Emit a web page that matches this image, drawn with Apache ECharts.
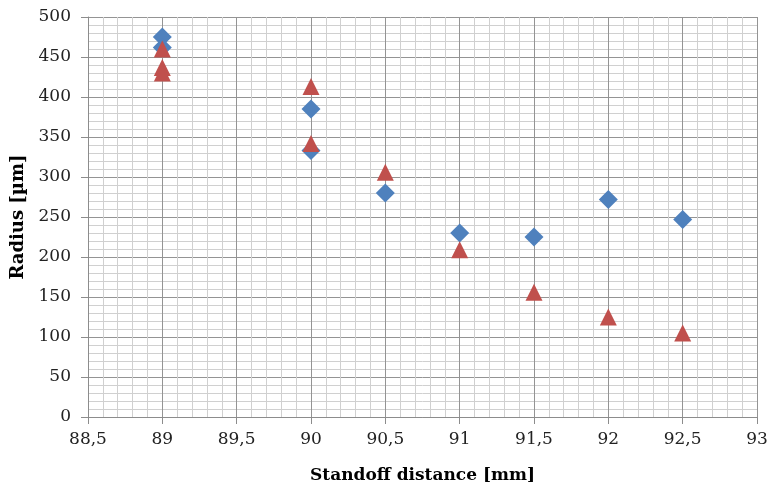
<!DOCTYPE html>
<html>
<head>
<meta charset="utf-8">
<script src="https://cdn.jsdelivr.net/npm/echarts@6/dist/echarts.min.js"></script>
<style>html,body{margin:0;padding:0;background:#fff;}#c{width:768px;height:486px;}</style>
</head>
<body>
<div id="c"></div>
<script>
var blueX = [89, 89, 90, 90, 90.5, 91, 91.5, 92, 92.5];
var blueY = [475, 462, 385, 333, 280, 230, 225, 272, 247];
var redX = [89, 89, 89, 90, 90, 90.5, 91, 91.5, 92, 92.5];
var redY = [460, 437, 430, 413, 342, 306, 209, 156, 125, 105];
var xTitle = 'Standoff distance [mm]';
var yTitle = 'Radius [µm]';

function pairs(xs, ys) { return xs.map(function (x, i) { return [x, ys[i]]; }); }

var font = '"DejaVu Serif", "Liberation Serif", serif';
var chart = echarts.init(document.getElementById('c'), null, {renderer: 'canvas'});
chart.setOption({
  animation: false,
  grid: {left: 88, right: 11, top: 17, bottom: 69, containLabel: false, outerBoundsMode: 'none'},
  xAxis: {
    type: 'value', min: 88.5, max: 93, interval: 0.5,
    name: xTitle, nameLocation: 'middle', nameGap: 50,
    nameTextStyle: {fontFamily: font, fontWeight: 'bold', fontSize: 17, color: '#000'},
    axisLine: {lineStyle: {color: '#8c8c8c'}},
    axisTick: {show: true, length: 7, lineStyle: {color: '#8c8c8c'}},
    axisLabel: {fontFamily: font, fontSize: 17, color: '#222', margin: 14,
      formatter: function (v) { return String(v).replace('.', ','); }},
    splitLine: {show: true, lineStyle: {color: '#949494', width: 1}},
    minorTick: {show: false, splitNumber: 5},
    minorSplitLine: {show: true, lineStyle: {color: '#d0d0d0', width: 1}}
  },
  yAxis: {
    type: 'value', min: 0, max: 500, interval: 50,
    name: yTitle, nameLocation: 'middle', nameGap: 52, nameRotate: 90,
    nameTextStyle: {fontFamily: font, fontWeight: 'bold', fontSize: 18, color: '#000'},
    axisLine: {show: true, lineStyle: {color: '#8c8c8c'}},
    axisTick: {show: true, length: 7, lineStyle: {color: '#8c8c8c'}},
    axisLabel: {fontFamily: font, fontSize: 17, color: '#222', margin: 17},
    splitLine: {show: true, lineStyle: {color: '#949494', width: 1}},
    minorTick: {show: false, splitNumber: 5},
    minorSplitLine: {show: true, lineStyle: {color: '#d0d0d0', width: 1}}
  },
  series: [
    {type: 'scatter', data: pairs(blueX, blueY), symbol: 'diamond', symbolSize: [19, 19],
     itemStyle: {color: '#4F81BD', opacity: 1}},
    {type: 'scatter', data: pairs(redX, redY), symbol: 'triangle', symbolSize: [17, 17],
     itemStyle: {color: '#C0504D', opacity: 1}}
  ]
});
</script>
</body>
</html>
